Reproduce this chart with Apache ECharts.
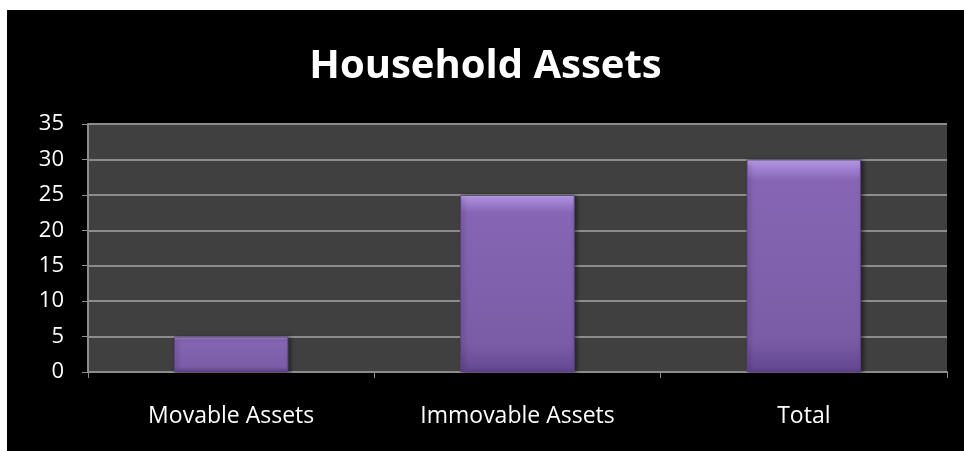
<!DOCTYPE html>
<html><head><meta charset="utf-8">
<script src="https://cdn.jsdelivr.net/npm/echarts@6/dist/echarts.min.js"></script>
<style>
html,body{margin:0;padding:0;background:#fff;width:964px;height:451px;overflow:hidden}
#c{position:absolute;left:7px;top:10px;width:957px;height:441px}
</style></head>
<body><div id="c"></div>
<script>
const categories = ["Movable Assets", "Immovable Assets", "Total"];
const values = [5, 25, 30];
const yTicks = {min: 0, max: 35, interval: 5};

const chart = echarts.init(document.getElementById('c'));
chart.setOption({
  backgroundColor: '#000',
  animation: false,
  title: {
    text: 'Household Assets', left: 'center', top: 32,
    textStyle: {color: '#fff', fontSize: 40, fontWeight: 'bold', fontFamily: 'Open Sans'}
  },
  grid: {left: 81, right: 17, top: 114, bottom: 79, show: true, backgroundColor: '#404040', borderWidth: 0},
  xAxis: {
    type: 'category', data: categories,
    axisLine: {lineStyle: {color: '#8c8c8c', width: 2}},
    axisTick: {show: true, length: 6, lineStyle: {color: '#8c8c8c', width: 1}},
    axisLabel: {color: '#fff', fontSize: 23, fontFamily: 'Open Sans', margin: 33}
  },
  yAxis: {
    type: 'value', min: yTicks.min, max: yTicks.max, interval: yTicks.interval,
    axisLine: {show: true, lineStyle: {color: '#8c8c8c', width: 2}},
    axisTick: {show: true, length: 6, lineStyle: {color: '#8c8c8c', width: 1}},
    splitLine: {lineStyle: {color: '#8c8c8c', width: 2}},
    axisLabel: {color: '#fff', fontSize: 22, fontFamily: 'Open Sans', margin: 24}
  },
  series: [{
    type: 'bar', data: values, barWidth: '40%',
    itemStyle: {
      color: new echarts.graphic.LinearGradient(0, 0, 0, 1, [
        {offset: 0, color: '#c8acf4'},
        {offset: 0.035, color: '#a485d6'},
        {offset: 0.1, color: '#8666b4'},
        {offset: 0.85, color: '#7a5ca6'},
        {offset: 1, color: '#634690'}
      ]),
      borderColor: '#5b4284', borderWidth: 1,
      shadowColor: 'rgba(0,0,0,0.5)', shadowBlur: 4, shadowOffsetX: 2, shadowOffsetY: 1
    }
  }]
});
</script></body></html>
